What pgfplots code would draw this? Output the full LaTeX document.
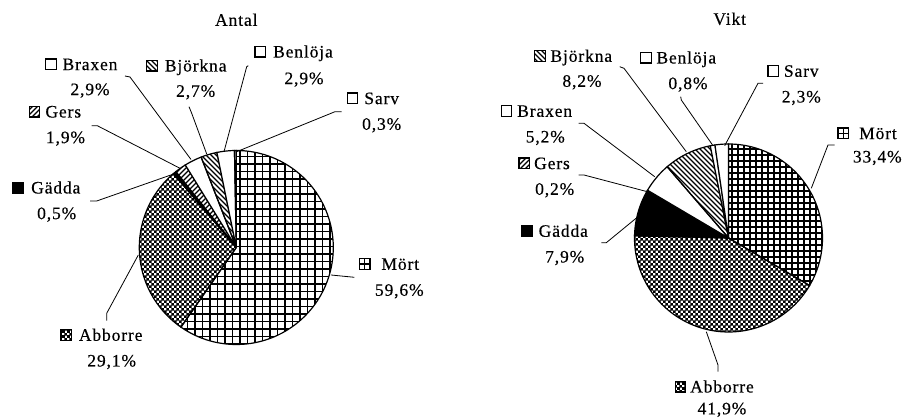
\documentclass[border=0pt]{standalone}
\usepackage{fontspec}
\setmainfont{Liberation Serif}
\newfontfamily\lblfont{Liberation Serif}[LetterSpace=5,FakeBold=0.4]
\usepackage{pgfplots}
\usepackage{pgfplotstable}
\pgfplotsset{compat=1.18}
\usetikzlibrary{patterns}

\pgfdeclarepatternformonly{pgridL}{\pgfpoint{-1bp}{-1bp}}{\pgfpoint{8.5bp}{8.5bp}}{\pgfpoint{7.5bp}{7.5bp}}{%
  \pgfsetlinewidth{1.5bp}%
  \pgfpathmoveto{\pgfpoint{0bp}{0bp}}\pgfpathlineto{\pgfpoint{7.6bp}{0bp}}%
  \pgfpathmoveto{\pgfpoint{0bp}{0bp}}\pgfpathlineto{\pgfpoint{0bp}{7.6bp}}%
  \pgfusepath{stroke}}
\pgfdeclarepatternformonly{pgridR}{\pgfpoint{-1bp}{-1bp}}{\pgfpoint{7bp}{7bp}}{\pgfpoint{6bp}{6bp}}{%
  \pgfsetlinewidth{1.4bp}%
  \pgfpathmoveto{\pgfpoint{0bp}{0bp}}\pgfpathlineto{\pgfpoint{6.1bp}{0bp}}%
  \pgfpathmoveto{\pgfpoint{0bp}{0bp}}\pgfpathlineto{\pgfpoint{0bp}{6.1bp}}%
  \pgfusepath{stroke}}
\pgfdeclarepatternformonly{pcheck}{\pgfpointorigin}{\pgfpoint{4.8bp}{4.8bp}}{\pgfpoint{4.8bp}{4.8bp}}{%
  \pgfpathrectangle{\pgfpointorigin}{\pgfpoint{2.75bp}{2.75bp}}%
  \pgfpathrectangle{\pgfpoint{2.4bp}{2.4bp}}{\pgfpoint{2.4bp}{2.4bp}}%
  \pgfpathrectangle{\pgfpoint{2.4bp}{2.4bp}}{\pgfpoint{2.75bp}{2.75bp}}%
  \pgfusepath{fill}}
\pgfdeclarepatternformonly{pnw}{\pgfpoint{-1bp}{-1bp}}{\pgfpoint{6bp}{6bp}}{\pgfpoint{5bp}{5bp}}{%
  \pgfsetlinewidth{1.1bp}%
  \pgfpathmoveto{\pgfpoint{-0.1bp}{5.1bp}}\pgfpathlineto{\pgfpoint{5.1bp}{-0.1bp}}%
  \pgfusepath{stroke}}
\pgfdeclarepatternformonly{pne}{\pgfpoint{-1bp}{-1bp}}{\pgfpoint{6bp}{6bp}}{\pgfpoint{5bp}{5bp}}{%
  \pgfsetlinewidth{1.1bp}%
  \pgfpathmoveto{\pgfpoint{-0.1bp}{-0.1bp}}\pgfpathlineto{\pgfpoint{5.1bp}{5.1bp}}%
  \pgfusepath{stroke}}

\tikzset{
  smortL/.style={draw=black, line width=1.2bp, pattern=pgridL},
  smortR/.style={draw=black, line width=1.2bp, pattern=pgridR},
  sabb/.style={draw=black, line width=1.2bp, pattern=pcheck},
  sgadda/.style={draw=black, line width=1.2bp, fill=black},
  sgers/.style={draw=black, line width=1.2bp, pattern=pne},
  sbraxen/.style={draw=black, line width=1.2bp, fill=white},
  sbjorkna/.style={draw=black, line width=1.2bp, pattern=pnw},
  sbenloja/.style={draw=black, line width=1.2bp, fill=white},
  ssarv/.style={draw=black, line width=1.2bp, fill=white},
  bmort/.style={draw=black, path picture={\draw[line width=1.2bp]
     (path picture bounding box.north) -- (path picture bounding box.south)
     (path picture bounding box.west) -- (path picture bounding box.east);}},
  lbl/.style={font=\lblfont\fontsize{17.5bp}{20bp}\selectfont, inner sep=0pt},
  lbox/.style={line width=1.4bp},
  lead/.style={draw=black, line width=0.8bp},
}

\pgfplotstableread{
pct style
59.6 smortL
29.1 sabb
0.5 sgadda
1.9 sgers
2.9 sbraxen
2.7 sbjorkna
2.9 sbenloja
0.3 ssarv
}\antal

\pgfplotstableread{
pct style
33.4 smortR
41.9 sabb
7.9 sgadda
0.2 sgers
5.2 sbraxen
8.2 sbjorkna
0.8 sbenloja
2.3 ssarv
}\vikt

\newcommand\drawpie[1]{%
  \def\pietotal{0}%
  \pgfplotsforeachungrouped \i in {0,...,7}{%
    \pgfplotstablegetelem{\i}{pct}\of#1%
    \pgfmathsetmacro\pietotal{\pietotal+\pgfplotsretval}}%
  \def\piecum{0}%
  \pgfplotsforeachungrouped \i in {0,...,7}{%
    \pgfplotstablegetelem{\i}{pct}\of#1\let\pv\pgfplotsretval
    \pgfplotstablegetelem{\i}{style}\of#1\let\ps\pgfplotsretval
    \pgfmathsetmacro\aS{90-360*(\piecum/\pietotal)}%
    \pgfmathsetmacro\piecum{\piecum+\pv}%
    \pgfmathsetmacro\aE{90-360*(\piecum/\pietotal)}%
    \edef\temp{\noexpand\addplot[\ps, domain=\aE:\aS, samples=90] ({cos(x)},{sin(x)}) -- (axis cs:0,0) -- cycle;}%
    \temp}%
}

% #1 box left x, #2 name x, #3 name y (visual centre), #4 box style, #5 name, #6 pct x, #7 pct y, #8 pct
\newcommand\lab[8]{%
  \draw[lbox,#4] (#1,#3-5.25) rectangle (#1+10.5,#3+5.25);
  \node[lbl, anchor=base] at (#2,#3+5.8) {#5};
  \node[lbl, anchor=base] at (#6,#7+5.8) {#8};
}

\begin{document}
\begin{tikzpicture}
\path[use as bounding box] (0,0) rectangle (916bp,419bp);

\begin{axis}[hide axis, x=97bp, y=97bp, xmin=-1, xmax=1, ymin=-1, ymax=1,
  at={(236.3bp,171.5bp)}, anchor=origin, clip=false, no markers]
\drawpie{\antal}
\end{axis}

\begin{axis}[hide axis, x=94bp, y=94bp, xmin=-1, xmax=1, ymin=-1, ymax=1,
  at={(728.5bp,181bp)}, anchor=origin, clip=false, no markers]
\drawpie{\vikt}
\end{axis}

\begin{scope}[x=1bp, y=-1bp, yshift=419bp]
  \node[lbl, anchor=base] at (236.3,25.8) {Antal};
  \node[lbl, anchor=base] at (729.7,24.8) {Vikt};

  % Antal labels
  \lab{45.7}{90}{64.3}{sbraxen}{Braxen}{90}{89.3}{2,9\%}
  \lab{146.7}{195.7}{65.7}{sbjorkna}{Björkna}{195.7}{91}{2,7\%}
  \lab{255}{303}{51.7}{sbenloja}{Benlöja}{304}{78.3}{2,9\%}
  \lab{347.3}{381.7}{98.3}{ssarv}{Sarv}{381.7}{124}{0,3\%}
  \lab{29.3}{63.3}{111.7}{sgers}{Gers}{65.5}{137.3}{1,9\%}
  \lab{12.7}{55.8}{187.7}{sgadda}{Gädda}{56.7}{213.3}{0,5\%}
  \lab{61}{110.7}{335}{sabb}{Abborre}{111.7}{360.7}{29,1\%}
  \lab{359.3}{400.3}{264}{bmort}{Mört}{399.3}{290}{59,6\%}

  \draw[lead] (125,76)--(130,77)--(191,159.5);
  \draw[lead] (189,106.7)--(191.7,113.3)--(206.7,154);
  \draw[lead] (248.3,65.7)--(246.7,66.7)--(224,151.7);
  \draw[lead] (341.7,111.7)--(335,111.7)--(236.7,151.7);
  \draw[lead] (91.7,125.7)--(97.3,125.7)--(180,168.3);
  \draw[lead] (90,201)--(96.7,201)--(175.7,173.3);
  \draw[lead] (106.7,320.7)--(106.7,313.3)--(138.3,255);
  \draw[lead] (331,275)--(354.3,277.3);

  % Vikt labels
  \lab{534.7}{581.3}{56}{sbjorkna}{Björkna}{582}{81}{8,2\%}
  \lab{640.7}{686.3}{57.7}{sbenloja}{Benlöja}{688}{83.3}{0,8\%}
  \lab{768}{801.3}{71}{ssarv}{Sarv}{801.3}{96.7}{2,3\%}
  \lab{501.3}{544.7}{111}{sbraxen}{Braxen}{545.3}{136.7}{5,2\%}
  \lab{838}{878}{133.3}{bmort}{Mört}{877.3}{156.7}{33,4\%}
  \lab{519}{552}{163.3}{sgers}{Gers}{554.7}{189}{0,2\%}
  \lab{522}{563.3}{231}{sgadda}{Gädda}{564.7}{256.7}{7,9\%}
  \lab{675.3}{722}{386.7}{sabb}{Abborre}{722}{408.5}{41,9\%}

  \draw[lead] (619.7,66.7)--(624,68.3)--(686.3,151.7);
  \draw[lead] (680.7,96.7)--(681.3,100)--(713,145.7);
  \draw[lead] (763,83.3)--(758,83.3)--(724.7,145.7);
  \draw[lead] (578.7,123.3)--(584,123.3)--(654.7,176.7);
  \draw[lead] (834.7,145)--(828,145)--(811.3,188.3);
  \draw[lead] (578.7,175)--(584,175)--(647.3,191.7);
  \draw[lead] (601.3,242.7)--(606.3,242.7)--(638,216.7);
  \draw[lead] (718,371.7)--(718,365)--(706.3,331.7);
\end{scope}
\end{tikzpicture}
\end{document}
